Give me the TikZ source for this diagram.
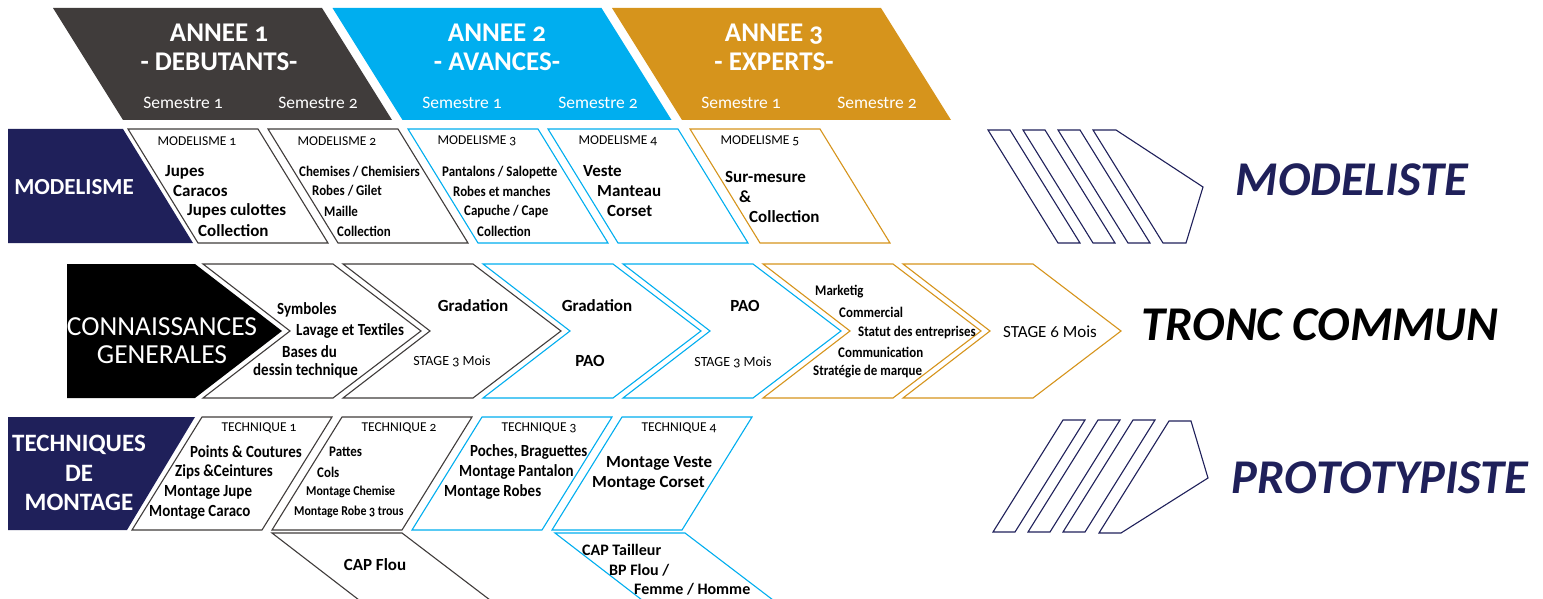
\documentclass[tikz,border=0pt]{standalone}
\usepackage{fontspec}
\setmainfont{Carlito}[Numbers=OldStyle]
\newfontfamily\narrowfont{Carlito}[FakeStretch=0.88,Numbers=OldStyle]
\definecolor{anthra}{RGB}{64,60,59}
\definecolor{sky}{RGB}{0,174,239}
\definecolor{gold}{RGB}{214,148,28}
\definecolor{navy}{RGB}{31,32,90}

\begin{document}
\begin{tikzpicture}[x=1pt,y=-1pt,inner sep=0pt,
  card/.style={draw=#1,line width=1.1pt,fill=white},
  hdr/.style={text=white,align=center,font=\fontsize{27}{29}\selectfont\bfseries},
  sem/.style={text=white,font=\fontsize{17.5}{20}\selectfont},
  tag/.style={font=\fontsize{13.5}{16}\selectfont},
  big/.style={anchor=west,font=\fontsize{17}{20}\selectfont\bfseries},
  thin/.style={anchor=west,font=\narrowfont\fontsize{14.7}{18}\selectfont\bfseries},
  thick/.style={anchor=west,font=\narrowfont\fontsize{17}{20}\selectfont\bfseries},
  stage/.style={font=\fontsize{14}{16}\selectfont},
  title/.style={font=\fontsize{48.5}{52}\selectfont\bfseries\itshape}]
\useasboundingbox (0,0) rectangle (1543,599);
\clip (0,0) rectangle (1543,599);

% years
\fill[anthra] (53,8) -- (322,8) -- (392,120) -- (123,120) -- cycle;
\fill[sky] (332.5,8) -- (601.5,8) -- (671.5,120) -- (402.5,120) -- cycle;
\fill[gold] (612,8) -- (881,8) -- (951,120) -- (682,120) -- cycle;
\node[hdr] (an1) at (219,47) {ANNEE 1\\- DEBUTANTS-};
\node[hdr] (an2) at (497,47) {ANNEE 2\\- AVANCES-};
\node[hdr] (an3) at (774,47) {ANNEE 3\\- EXPERTS-};
\node[sem] (s11) at (183,103) {Semestre 1};
\node[sem] (s12) at (318,103) {Semestre 2};
\node[sem] (s21) at (462,103) {Semestre 1};
\node[sem] (s22) at (598,103) {Semestre 2};
\node[sem] (s31) at (741,103) {Semestre 1};
\node[sem] (s32) at (877,103) {Semestre 2};

% modelisme
\fill[navy] (8,129) -- (123,129) -- (193,243) -- (8,243) -- cycle;
\node[text=white,font=\fontsize{23}{26}\selectfont\bfseries] (modl) at (74,187) {MODELISME};
\foreach \x/\c in {128/anthra,268/anthra,408/sky,548/sky,690/gold}
  \draw[card=\c] (\x,129) -- ++(130,0) -- ++(70,114) -- ++(-130,0) -- cycle;
\foreach \i/\x in {1/197,2/337,3/477,4/618,5/760}
  \node[tag] (mod\i) at (\x,141) {MODELISME \i};
\node[big] (m1a) at (165,172) {Jupes};
\node[big] (m1b) at (173,191) {Caracos};
\node[big] (m1c) at (187,211) {Jupes culottes};
\node[big] (m1d) at (198,231) {Collection};
\node[thin] (m2a) at (299,172) {Chemises / Chemisiers};
\node[thin] (m2b) at (312,191) {Robes / Gilet};
\node[thin] (m2c) at (324,211) {Maille};
\node[thin] (m2d) at (337,231) {Collection};
\node[thin] (m3a) at (442,172) {Pantalons / Salopette};
\node[thin] (m3b) at (453,191) {Robes et manches};
\node[thin] (m3c) at (464,211) {Capuche / Cape};
\node[thin] (m3d) at (477,231) {Collection};
\node[big] (m4a) at (583,171) {Veste};
\node[big] (m4b) at (597,191) {Manteau};
\node[big] (m4c) at (607,211) {Corset};
\node[big] (m5a) at (725,177) {Sur-mesure};
\node[big] (m5b) at (739,197) {\&};
\node[big] (m5c) at (749,217) {Collection};

% tronc commun
\fill[black] (67,264) -- (195,264) -- (282,331) -- (195,398) -- (67,398) -- cycle;
\node[text=white,align=center,font=\fontsize{27.5}{28}\selectfont] (conn) at (162,341) {CONNAISSANCES\\GENERALES};
\foreach \x/\c in {203/anthra,343/anthra,483/sky,623/sky,763/gold,903/gold}
  \draw[card=\c] (\x,264) -- ++(130,0) -- ++(88,67) -- ++(-88,67) -- ++(-130,0) -- ++(87,-67) -- cycle;
\node[thick] (c1a) at (277,310) {Symboles};
\node[thick] (c1b) at (296,331) {Lavage et Textiles};
\node[thick] (c1c) at (282,352) {Bases du};
\node[thick] (c1d) at (253,371) {dessin technique};
\node[big,anchor=center] (c2a) at (473,306) {Gradation};
\node[stage] (c2b) at (452,361) {STAGE 3 Mois};
\node[big,anchor=center] (c3a) at (597,306) {Gradation};
\node[big,anchor=center] (c3b) at (590,361) {PAO};
\node[big,anchor=center] (c4a) at (745,306) {PAO};
\node[stage] (c4b) at (733,362) {STAGE 3 Mois};
\node[thin] (c5a) at (815,292) {Marketig};
\node[thin] (c5b) at (839,312) {Commercial};
\node[thin] (c5c) at (858,332) {Statut des entreprises};
\node[thin] (c5d) at (838,352) {Communication};
\node[thin] (c5e) at (813,372) {Stratégie de marque};
\node[font=\fontsize{17}{20}\selectfont] (c6a) at (1050,332) {STAGE 6 Mois};

% techniques
\fill[navy] (8,417) -- (195,417) -- (127,530) -- (8,530) -- cycle;
\node[text=white,align=center,font=\fontsize{25}{29.5}\selectfont\bfseries] (tech) at (79,473) {TECHNIQUES\\DE\\MONTAGE};
\foreach \x/\c in {202/anthra,342/anthra,482/sky,622/sky}
  \draw[card=\c] (\x,417) -- ++(130,0) -- ++(-70,113) -- ++(-130,0) -- cycle;
\foreach \i/\x in {1/259,2/399,3/539,4/679}
  \node[tag] (tec\i) at (\x,428) {TECHNIQUE \i};
\node[thick] (t1a) at (190,452) {Points \& Coutures};
\node[thick] (t1b) at (175,472) {Zips \&Ceintures};
\node[thick] (t1c) at (164,492) {Montage Jupe};
\node[thick] (t1d) at (149,512) {Montage Caraco};
\node[thin] (t2a) at (329,452) {Pattes};
\node[thin] (t2b) at (317,472) {Cols};
\node[thin,font=\narrowfont\fontsize{13.5}{16}\selectfont\bfseries] (t2c) at (306,492) {Montage Chemise};
\node[thin,font=\narrowfont\fontsize{13.5}{16}\selectfont\bfseries] (t2d) at (294,512) {Montage Robe 3 trous};
\node[thick] (t3a) at (470,452) {Poches, Braguettes};
\node[thick] (t3b) at (459,472) {Montage Pantalon};
\node[thick] (t3c) at (444,492) {Montage Robes};
\node[big] (t4a) at (606,463) {Montage Veste};
\node[big] (t4b) at (592,483) {Montage Corset};
\foreach \x/\c in {272/anthra,555/sky}
  \draw[card=\c] (\x,533) -- ++(130,0) -- ++(88,67) -- ++(-88,67) -- ++(-130,0) -- ++(87,-67) -- cycle;
\node[big,anchor=center] (capf) at (375,565) {CAP Flou};
\node[big,font=\fontsize{16}{20}\selectfont\bfseries] (capt) at (582,550) {CAP Tailleur};
\node[big,font=\fontsize{16}{20}\selectfont\bfseries] (bpf) at (609,570) {BP Flou /};
\node[big,font=\fontsize{16}{20}\selectfont\bfseries] (fh) at (634,589) {Femme / Homme};

% debouches
\foreach \i in {0,1,2}
  \draw[navy,line width=1.1pt] (988+35*\i,130) -- ++(22,0) -- ++(70,113) -- ++(-22,0) -- cycle;
\draw[navy,line width=1.1pt] (1093,130) -- (1116,130) -- (1203,187) -- (1186,243) -- (1163,243) -- cycle;
\foreach \i in {0,1,2}
  \draw[navy,line width=1.1pt] (993+35*\i,532) -- ++(22,0) -- ++(70,-112) -- ++(-22,0) -- cycle;
\draw[navy,line width=1.1pt] (1099,533) -- (1121,533) -- (1208,478) -- (1191,421) -- (1169,421) -- cycle;
\node[title,text=navy] (modeliste) at (1352,180) {MODELISTE};
\node[title] (tronc) at (1320,325) {TRONC COMMUN};
\node[title,text=navy] (proto) at (1380,478) {PROTOTYPISTE};
\end{tikzpicture}
\end{document}
